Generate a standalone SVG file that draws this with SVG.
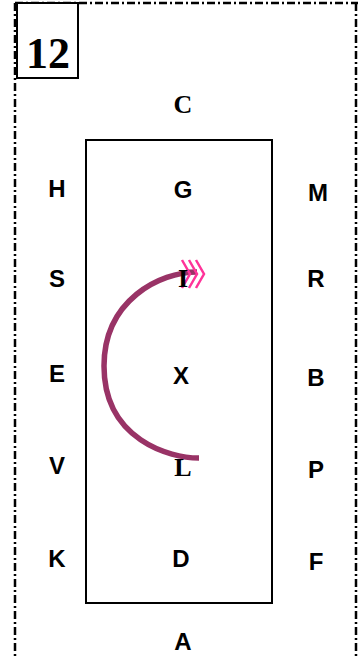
<svg xmlns="http://www.w3.org/2000/svg" width="358" height="657" viewBox="0 0 358 657">
<style>
.bd{fill:none;stroke:#000;stroke-width:2.5;stroke-dasharray:8 3 2 3}
.sans{font-family:"Liberation Sans",Arial,sans-serif;font-weight:bold;font-size:24px;text-anchor:middle;fill:#000}
.serif{font-family:"Liberation Serif","Times New Roman",serif;font-weight:bold;font-size:26px;text-anchor:middle;fill:#000}
.chev{fill:none;stroke:#ff3399;stroke-width:2.5}
</style>
<rect width="358" height="657" fill="#fff"/>
<g id="border">
<line class="bd" x1="15" y1="3" x2="358" y2="3"/>
<line class="bd" x1="15" y1="3" x2="15" y2="657"/>
<line class="bd" x1="356" y1="3" x2="356" y2="657"/>
</g>
<g id="title">
<rect x="17" y="3" width="61" height="75" fill="#fff" stroke="#000" stroke-width="2"/>
<text x="48" y="68" font-family="Liberation Serif,'Times New Roman',serif" font-weight="bold" font-size="44" text-anchor="middle">12</text>
</g>
<g id="arena">
<rect x="86" y="140" width="186" height="463" fill="none" stroke="#000" stroke-width="2"/>
</g>
<g id="connectors">
<path d="M199,458 C170,458 104,440 104,366 C104,300 160,272 197,272" fill="none" stroke="#993366" stroke-width="5.5"/>
<g id="arrowhead">
<polyline class="chev" points="182,260 190,274 182,288"/>
<polyline class="chev" points="189,260 197,274 189,288"/>
<polyline class="chev" points="196,260 204,274 196,288"/>
</g>
</g>
<g id="labels">
<text class="serif" x="183" y="113">C</text>
<text class="sans" x="57" y="197">H</text>
<text class="sans" x="183" y="198">G</text>
<text class="sans" x="318" y="201">M</text>
<text class="sans" x="57" y="287">S</text>
<text class="serif" x="183" y="287">I</text>
<text class="sans" x="316" y="287">R</text>
<text class="sans" x="57" y="382">E</text>
<text class="sans" x="181" y="384">X</text>
<text class="sans" x="316" y="386">B</text>
<text class="sans" x="57" y="474">V</text>
<text class="serif" x="183" y="476">L</text>
<text class="sans" x="316" y="478">P</text>
<text class="sans" x="57" y="567">K</text>
<text class="sans" x="181" y="567">D</text>
<text class="sans" x="316" y="570">F</text>
<text class="sans" x="183" y="650">A</text>
</g>
</svg>
